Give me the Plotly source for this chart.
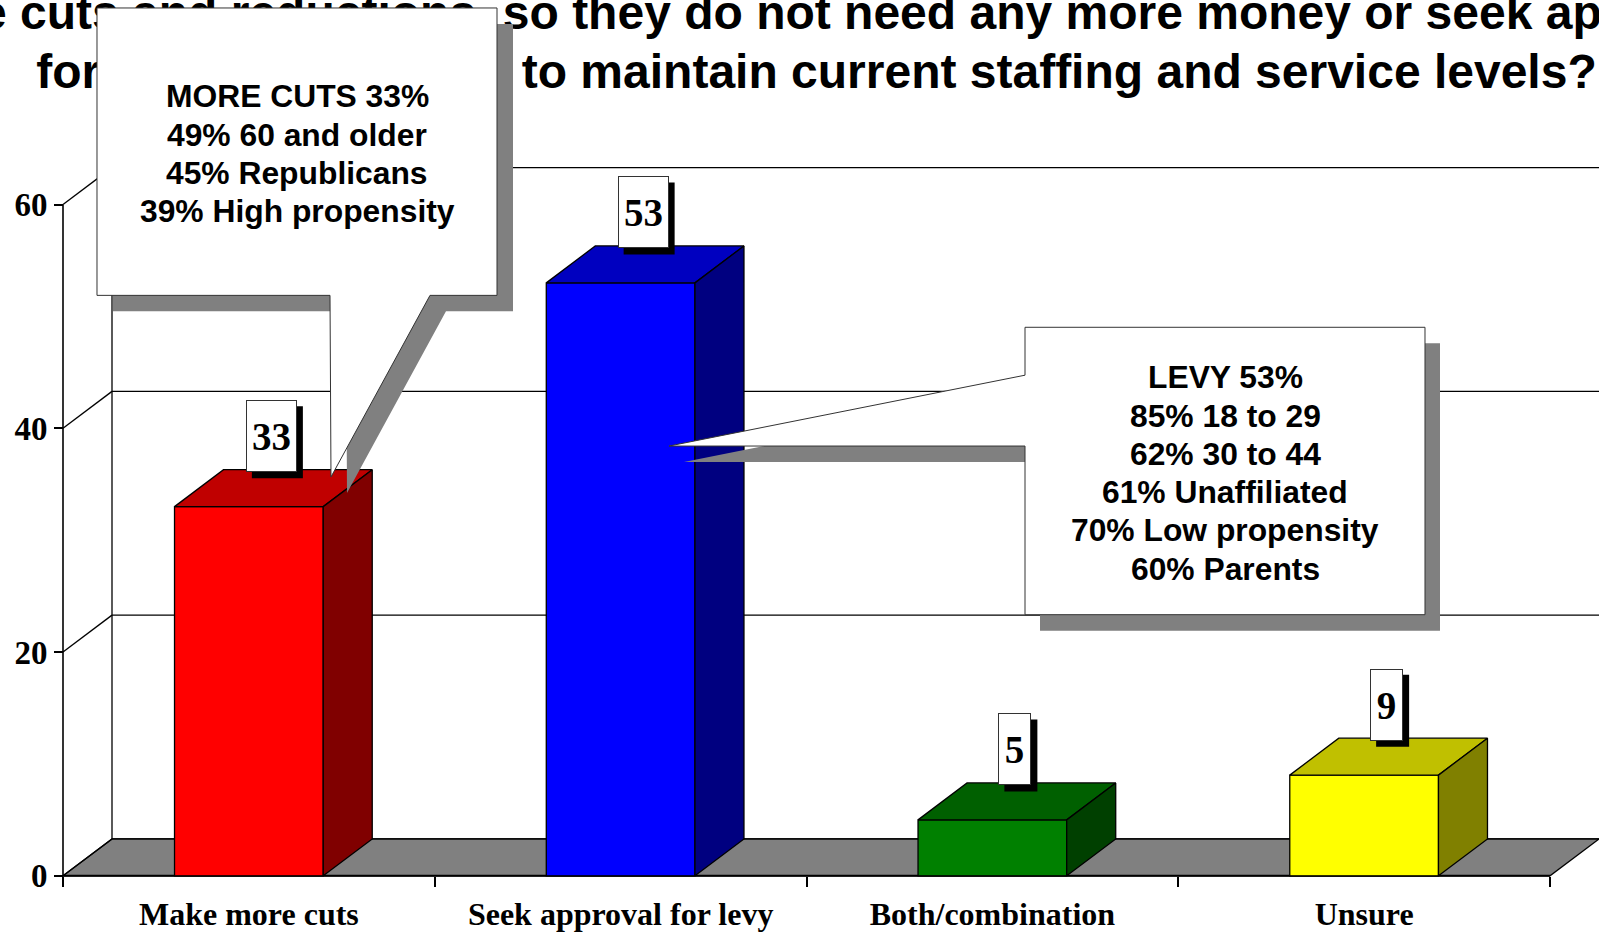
import plotly.graph_objects as go

# ---------------- data ----------------
categories = ["Make more cuts", "Seek approval for levy", "Both/combination", "Unsure"]
values = [33, 53, 5, 9]
front_colors = ["#FF0000", "#0000FF", "#008000", "#FFFF00"]
top_colors = ["#C00000", "#0000C0", "#006000", "#C0C000"]
side_colors = ["#800000", "#000080", "#004000", "#808000"]
y_ticks = [0, 20, 40, 60]

title_line1 = "make more cuts and reductions, so they do not need any more money or seek approval"
title_line2 = "for an operating levy to maintain current staffing and service levels?"

cuts_callout = ["MORE CUTS 33%", "49% 60 and older", "45% Republicans", "39% High propensity"]
levy_callout = ["LEVY 53%", "85% 18 to 29", "62% 30 to 44", "61% Unaffiliated",
                "70% Low propensity", "60% Parents"]

# ---------------- layout geometry (pixels) ----------------
W, H = 1599, 932
X_LEFT, X_RIGHT = 63, 1550      # front category axis ends
Y_ZERO, Y_TOP = 877.7, 205.0    # pixel rows of value 0 and 60
DEPTH_PX = (49, 37)             # 3-D depth offset in pixels
BAR_WIDTH = 0.4
CALLOUT_LINE_PX = 38.3
LABEL_SHIFT = (-2, 52)          # label box centre offset from top-face centre (px)
LABEL_H = 72
SHADOW_OFF = 6

n = len(categories)
kx = (X_RIGHT - X_LEFT) / n
ky = (Y_ZERO - Y_TOP) / y_ticks[-1]
x_range = [-0.5 - X_LEFT / kx, n - 0.5 + (W - X_RIGHT) / kx]
y_range = [-(H - Y_ZERO) / ky, Y_ZERO / ky]
DX = DEPTH_PX[0] / kx
DY = DEPTH_PX[1] / ky


def px2x(p):
    return -0.5 + (p - X_LEFT) / kx


def py2y(p):
    return (Y_ZERO - p) / ky


def pap(px, py):
    return px / W, 1 - py / H


fig = go.Figure()

# front faces of the bars
fig.add_trace(go.Bar(
    x=list(range(n)), y=values, width=BAR_WIDTH,
    marker=dict(color=front_colors, line=dict(color="black", width=1.3)),
    hoverinfo="skip",
))

# top and side faces
h = BAR_WIDTH / 2
for i, v in enumerate(values):
    fig.add_trace(go.Scatter(
        x=[i - h, i + h, i + h + DX, i - h + DX, i - h],
        y=[v, v, v + DY, v + DY, v],
        mode="lines", fill="toself", fillcolor=top_colors[i],
        line=dict(color="black", width=1.3), hoverinfo="skip"))
    fig.add_trace(go.Scatter(
        x=[i + h, i + h + DX, i + h + DX, i + h, i + h],
        y=[0, DY, v + DY, v, 0],
        mode="lines", fill="toself", fillcolor=side_colors[i],
        line=dict(color="black", width=1.3), hoverinfo="skip"))

# title (as text trace so that the callout box can cover it)
fig.add_trace(go.Scatter(
    x=[px2x(749.5), px2x(816.5)], y=[py2y(16.9), py2y(75.9)],
    mode="text", text=[title_line1, title_line2], textposition="middle center",
    textfont=dict(family="Liberation Sans, Arial", size=48, color="black", weight="bold"),
    hoverinfo="skip", cliponaxis=False))

shapes = []
xl, xr_ = -0.5, n - 0.5
# floor
shapes.append(dict(type="path", layer="below", xref="x", yref="y",
                   path=f"M {xl} 0 L {xr_} 0 L {xr_ + DX} {DY} L {xl + DX} {DY} Z",
                   fillcolor="#808080", line=dict(color="black", width=1.3)))
# back wall grid lines and side-wall diagonals
for t in y_ticks:
    shapes.append(dict(type="line", layer="below", xref="x", yref="y",
                       x0=xl + DX, x1=xr_ + DX + 1, y0=t + DY, y1=t + DY,
                       line=dict(color="black", width=1.3)))
    shapes.append(dict(type="line", layer="below", xref="x", yref="y",
                       x0=xl, x1=xl + DX, y0=t, y1=t + DY,
                       line=dict(color="black", width=1.3)))
# back wall left edge
shapes.append(dict(type="line", layer="below", xref="x", yref="y",
                   x0=xl + DX, x1=xl + DX, y0=DY, y1=y_ticks[-1] + DY,
                   line=dict(color="black", width=1.3)))
# front value axis line
shapes.append(dict(type="line", layer="below", xref="x", yref="y",
                   x0=xl, x1=xl, y0=0, y1=y_ticks[-1],
                   line=dict(color="black", width=1.6)))
# front category axis line
shapes.append(dict(type="line", layer="below", xref="x", yref="y",
                   x0=xl, x1=xr_, y0=0, y1=0,
                   line=dict(color="black", width=2)))


def path_from(points, off=(0, 0)):
    parts = []
    for k, (px, py) in enumerate(points):
        a, b = pap(px + off[0], py + off[1])
        parts.append(("M" if k == 0 else "L") + f" {a:.5f} {b:.5f}")
    return " ".join(parts) + " Z"


cuts_box = (97, 8, 497, 296)
cuts_pts = [(97, 8), (497, 8), (497, 296), (430, 296), (331, 478), (330, 296), (97, 296)]
levy_box = (1025, 328, 1425, 616)
levy_pts = [(1025, 328), (1425, 328), (1425, 616), (1025, 616), (1025, 447), (669, 447), (1025, 376)]

for pts, off in [(cuts_pts, (16, 16)), (levy_pts, (15, 16))]:
    shapes.append(dict(type="path", layer="above", xref="paper", yref="paper",
                       path=path_from(pts, off), fillcolor="#808080",
                       line=dict(width=0)))
    shapes.append(dict(type="path", layer="above", xref="paper", yref="paper",
                       path=path_from(pts), fillcolor="white",
                       line=dict(color="#333333", width=1)))

annotations = []
for box, lines in [(cuts_box, cuts_callout), (levy_box, levy_callout)]:
    cx = (box[0] + box[2]) / 2
    cy = (box[1] + box[3]) / 2 + 2
    for k, line in enumerate(lines):
        ly = cy + (k - (len(lines) - 1) / 2) * CALLOUT_LINE_PX
        ax, ay = pap(cx, ly)
        annotations.append(dict(
            xref="paper", yref="paper", x=ax, y=ay, xanchor="center", yanchor="middle",
            text=line, showarrow=False, align="center",
            font=dict(family="Liberation Sans, Arial", size=31.8, color="black", weight="bold")))

# value labels (white boxes with black drop shadow)
for i, v in enumerate(values):
    txt = str(v)
    w = 49 if len(txt) > 1 else 31
    ox, oy = LABEL_SHIFT
    sx, sy = ox + SHADOW_OFF, oy - SHADOW_OFF
    half_w = (w + 2) / 2
    shapes.append(dict(type="rect", layer="above", xref="x", yref="y",
                       xsizemode="pixel", ysizemode="pixel",
                       xanchor=i + DX / 2, yanchor=v + DY / 2,
                       x0=sx - half_w, x1=sx + half_w,
                       y0=sy - LABEL_H / 2, y1=sy + LABEL_H / 2,
                       fillcolor="black", line=dict(width=0)))
    annotations.append(dict(xref="x", yref="y", x=i + DX / 2, y=v + DY / 2, text=txt,
                            showarrow=False, width=w, height=LABEL_H - 2, borderpad=0,
                            borderwidth=1, xanchor="center", yanchor="middle", valign="middle",
                            xshift=ox, yshift=oy, bgcolor="white", bordercolor="#333333",
                            font=dict(family="Liberation Serif, Times New Roman", size=39,
                                      color="black", weight="bold")))

fig.update_layout(
    width=W, height=H, autosize=False,
    margin=dict(l=0, r=0, t=0, b=0, pad=0),
    paper_bgcolor="white", plot_bgcolor="white",
    showlegend=False, hovermode=False,
    shapes=shapes, annotations=annotations,
    xaxis=dict(range=x_range, domain=[0, 1], anchor="free", position=1 - Y_ZERO / H,
               showgrid=False, zeroline=False, showline=False,
               tickmode="array", tickvals=list(range(n)), ticktext=categories,
               ticks="outside", ticklen=10, tickcolor="rgba(0,0,0,0)",
               tickfont=dict(family="Liberation Serif, Times New Roman", size=32,
                             color="black", weight="bold"),
               minor=dict(tickmode="array", tickvals=[k - 0.5 for k in range(n + 1)],
                          ticks="outside", ticklen=10, tickwidth=1.5, tickcolor="black",
                          showgrid=False),
               fixedrange=True),
    yaxis=dict(range=y_range, domain=[0, 1], anchor="free", position=X_LEFT / W,
               showgrid=False, zeroline=False, showline=False,
               tickmode="array", tickvals=y_ticks,
               ticks="outside", ticklen=9, tickwidth=1.5, tickcolor="black",
               tickfont=dict(family="Liberation Serif, Times New Roman", size=33,
                             color="black", weight="bold"),
               fixedrange=True),
)

fig.write_html("out.html", config={"displayModeBar": False},
               post_script="document.body.style.margin='0';document.body.style.overflow='hidden';")
